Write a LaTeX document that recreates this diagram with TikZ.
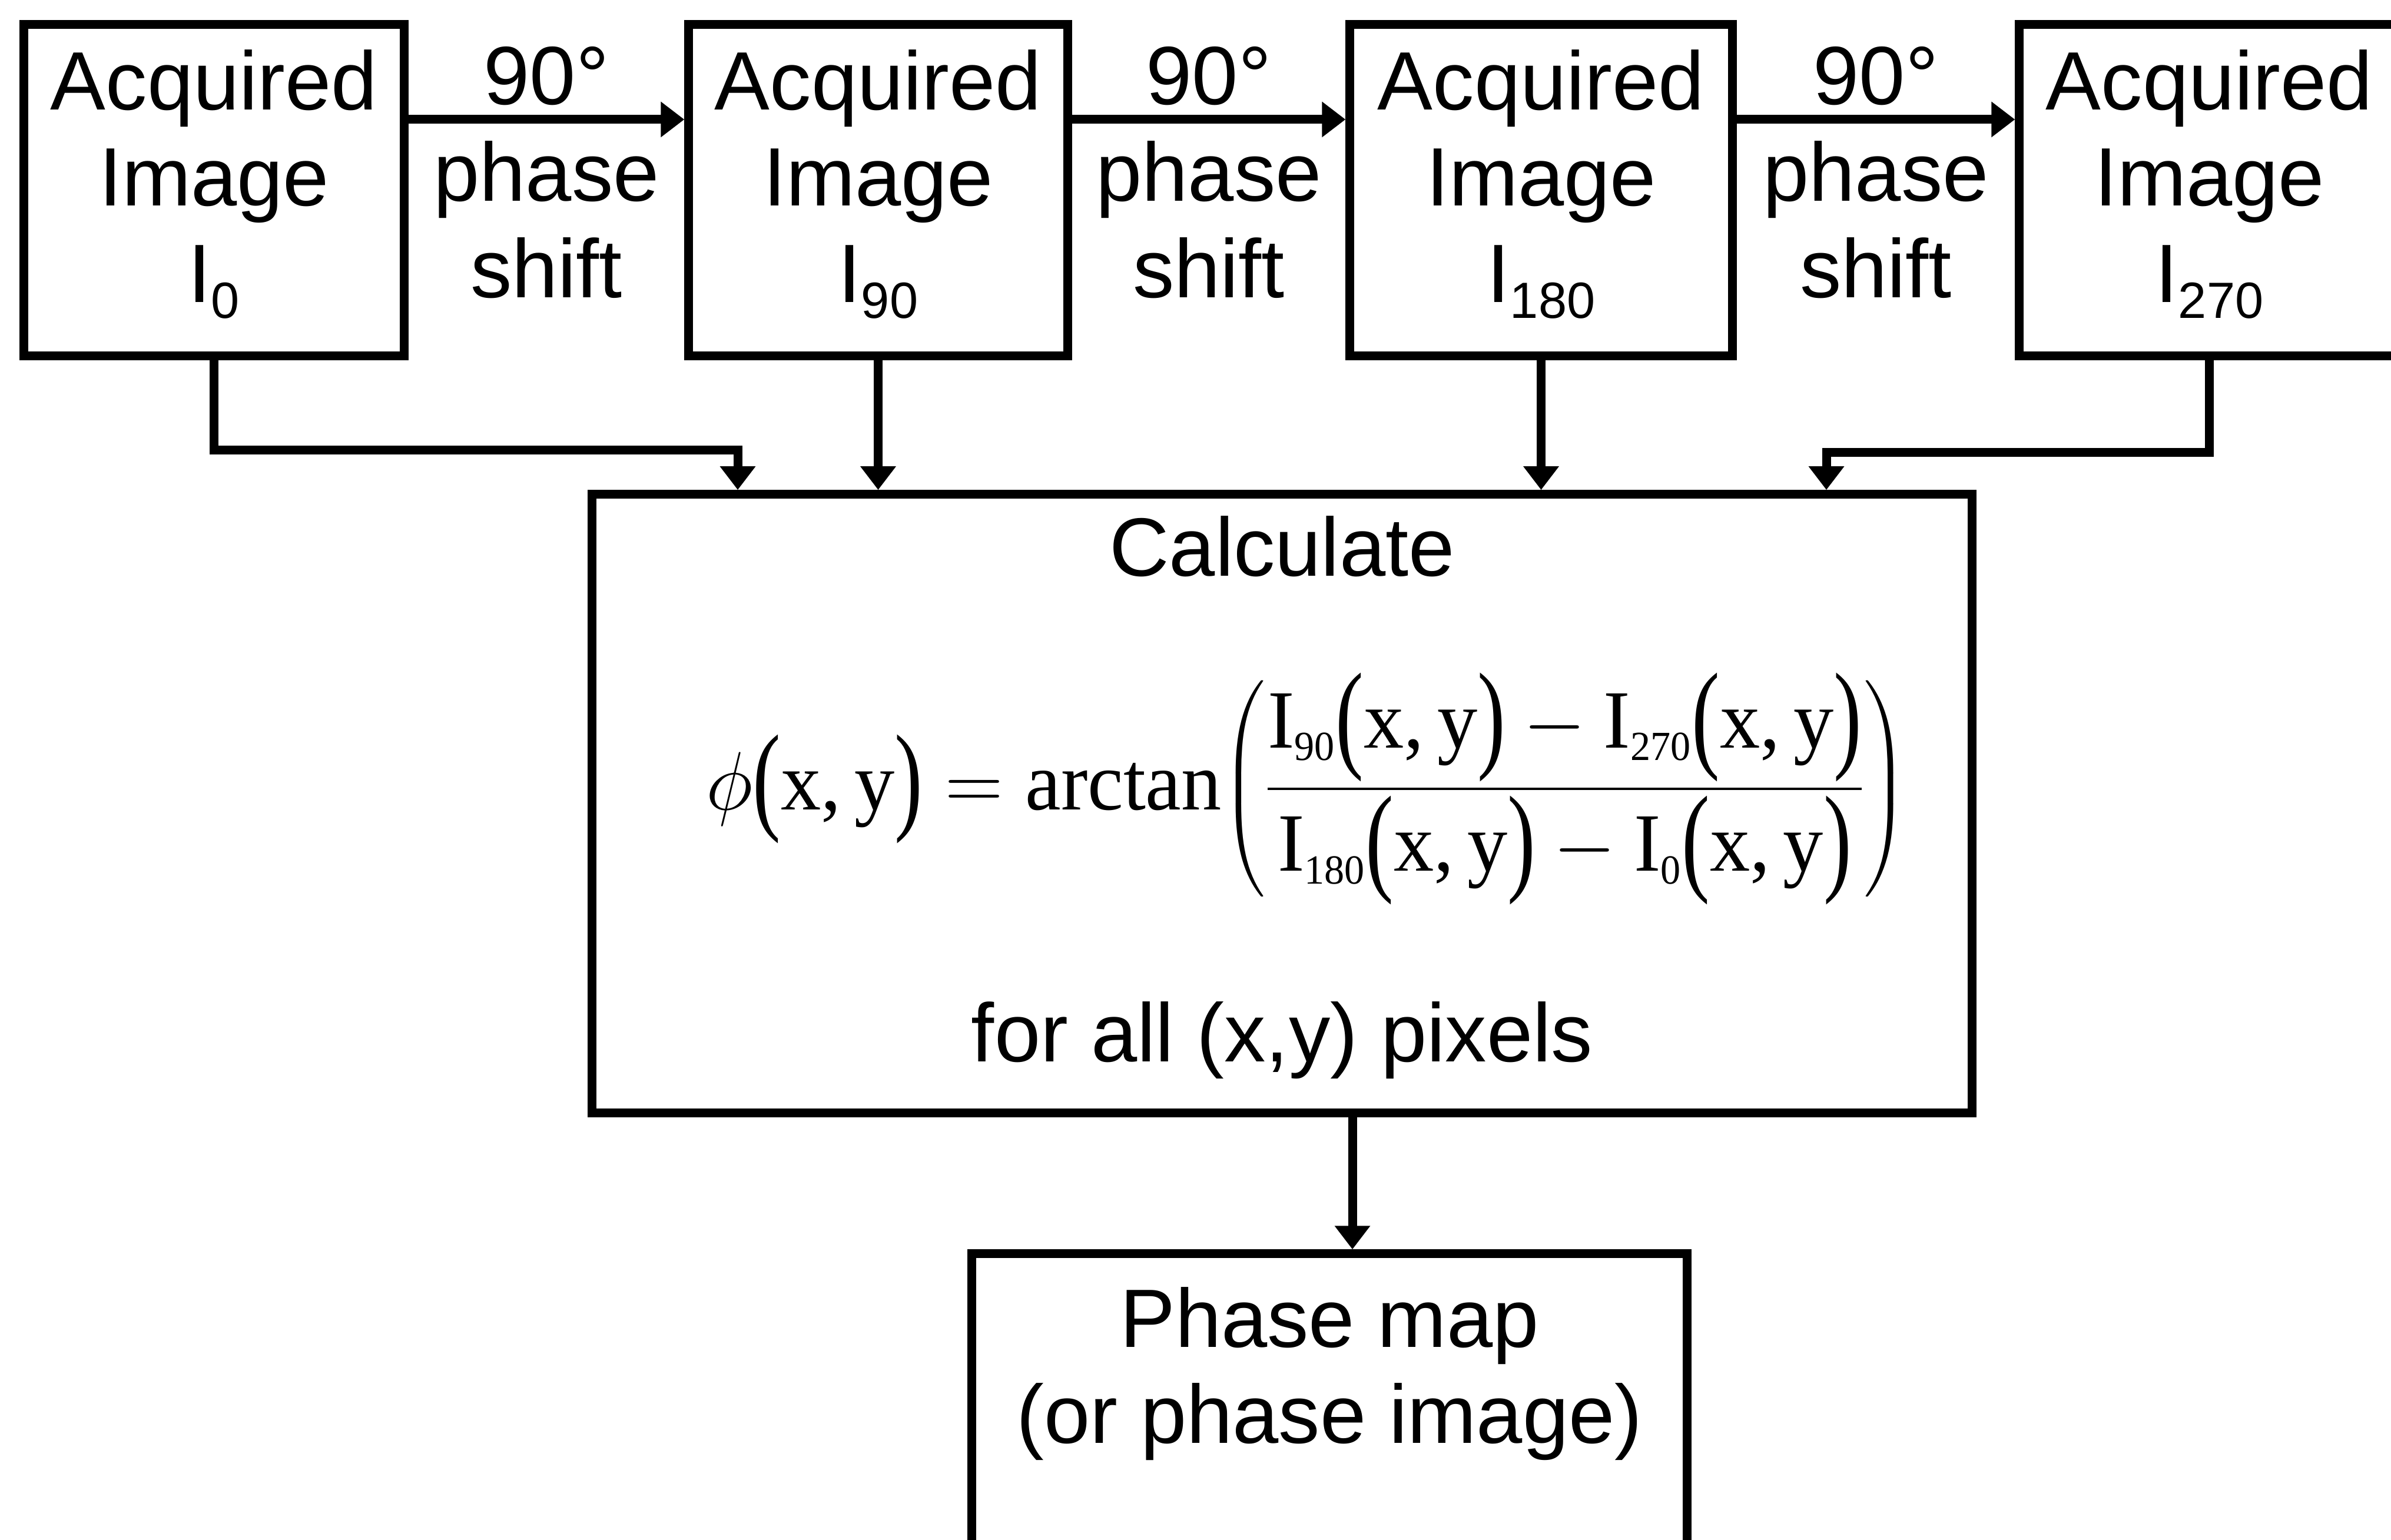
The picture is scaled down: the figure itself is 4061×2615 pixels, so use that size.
\RequirePackage{fix-cm}
\documentclass[tikz,border=0pt]{standalone}
\usepackage{amsmath}
\usepackage{graphicx}
\usepackage{fontspec}
\setmainfont{Liberation Sans}
\newfontfamily\timesf{Liberation Serif}
\usetikzlibrary{arrows.meta}
\newcommand\sbs[1]{\raisebox{-0.27cm}{\fontsize{24.6}{24.6}\selectfont #1}}
\newcommand\fsub[1]{\text{\fontsize{20}{20}\selectfont #1}}
\newcommand\lines[1]{\begin{tabular}[t]{@{}c@{}}#1\end{tabular}}
\newcommand\tallp[1]{\vcenter{\hbox{\scalebox{1.05}[1.45]{#1}}}}
\newcommand\xy{\mathopen{\tallp{(}}\text{x,\,y}\mathclose{\tallp{)}}}
\begin{document}
\begin{tikzpicture}[x=0.01cm,y=-0.01cm,
  box/.style={draw, line width=4.27pt, inner sep=0pt},
  txt/.style={inner sep=0pt, anchor=base, font=\fontsize{40}{46.5}\selectfont},
  conn/.style={line width=4.27pt, -{Triangle[length=0.40cm,width=0.58cm]}}]
\useasboundingbox (0,0) rectangle (4061,2615);
\fill[white] (0,0) rectangle (4061,2615);
\clip (0,0) rectangle (4061,2615);
% top row boxes
\node[box, minimum width=6.45cm, minimum height=5.62cm] (b1) at (363.5,323) {};
\node[box, minimum width=6.43cm, minimum height=5.62cm] (b2) at (1491.5,323) {};
\node[box, minimum width=6.49cm, minimum height=5.62cm] (b3) at (2617.5,323) {};
\node[box, minimum width=6.45cm, minimum height=5.62cm] (b4) at (3752.5,323) {};
\node[txt] (t1) at (363.5,186) {\lines{Acquired\\Image\\I\sbs{0}}};
\node[txt] (t2) at (1491.5,186) {\lines{Acquired\\Image\\I\sbs{90}}};
\node[txt] (t3) at (2617.5,186) {\lines{Acquired\\Image\\I\sbs{180}}};
\node[txt] (t4) at (3752.5,186) {\lines{Acquired\\Image\\I\sbs{270}}};
% phase shift labels
\node[txt] (s1) at (928,178) {\lines{90°\\phase\\shift}};
\node[txt] (s2) at (2053,178) {\lines{90°\\phase\\shift}};
\node[txt] (s3) at (3186,178) {\lines{90°\\phase\\shift}};
\draw[conn] ([yshift=1.2cm]b1.east) -- ([yshift=1.2cm]b2.west);
\draw[conn] ([yshift=1.2cm]b2.east) -- ([yshift=1.2cm]b3.west);
\draw[conn] ([yshift=1.2cm]b3.east) -- ([yshift=1.2cm]b4.west);
% calculation box
\node[box, minimum width=23.43cm, minimum height=10.5cm] (calc) at (2177.5,1365) {};
\node[txt] (ct) at (2177.5,978) {Calculate};
\node[inner sep=0pt, font=\timesf\fontsize{40}{48}\selectfont] (eq) at (2220,1340)
  {\scalebox{0.97}[1]{$\displaystyle \phi\xy = \text{arctan}{\biggl(\frac{\text{I}_{\fsub{90}}\xy-\text{I}_{\fsub{270}}\xy}{\text{I}_{\fsub{180}}\xy-\text{I}_{\fsub{0}}\xy}\biggr)}$}};
\node[txt] (fa) at (2177.5,1803) {for all (x,y) pixels};
% connectors into calc
\draw[conn] (b1.south) -- (b1.south |- 0,764) -| (1253,0 |- calc.north);
\draw[conn] (b2.south) -- (b2.south |- calc.north);
\draw[conn] (b3.south) -- (b3.south |- calc.north);
\draw[conn] (b4.south) -- (b4.south |- 0,768) -| (3102,0 |- calc.north);
% phase map
\node[box, minimum width=12.14cm, minimum height=7cm] (ph) at (2258,2480) {};
\node[txt] (pt) at (2258,2288) {\lines{Phase map\\(or phase image)}};
\draw[conn] (2297,0 |- calc.south) -- (2297,0 |- ph.north);
\end{tikzpicture}
\end{document}
